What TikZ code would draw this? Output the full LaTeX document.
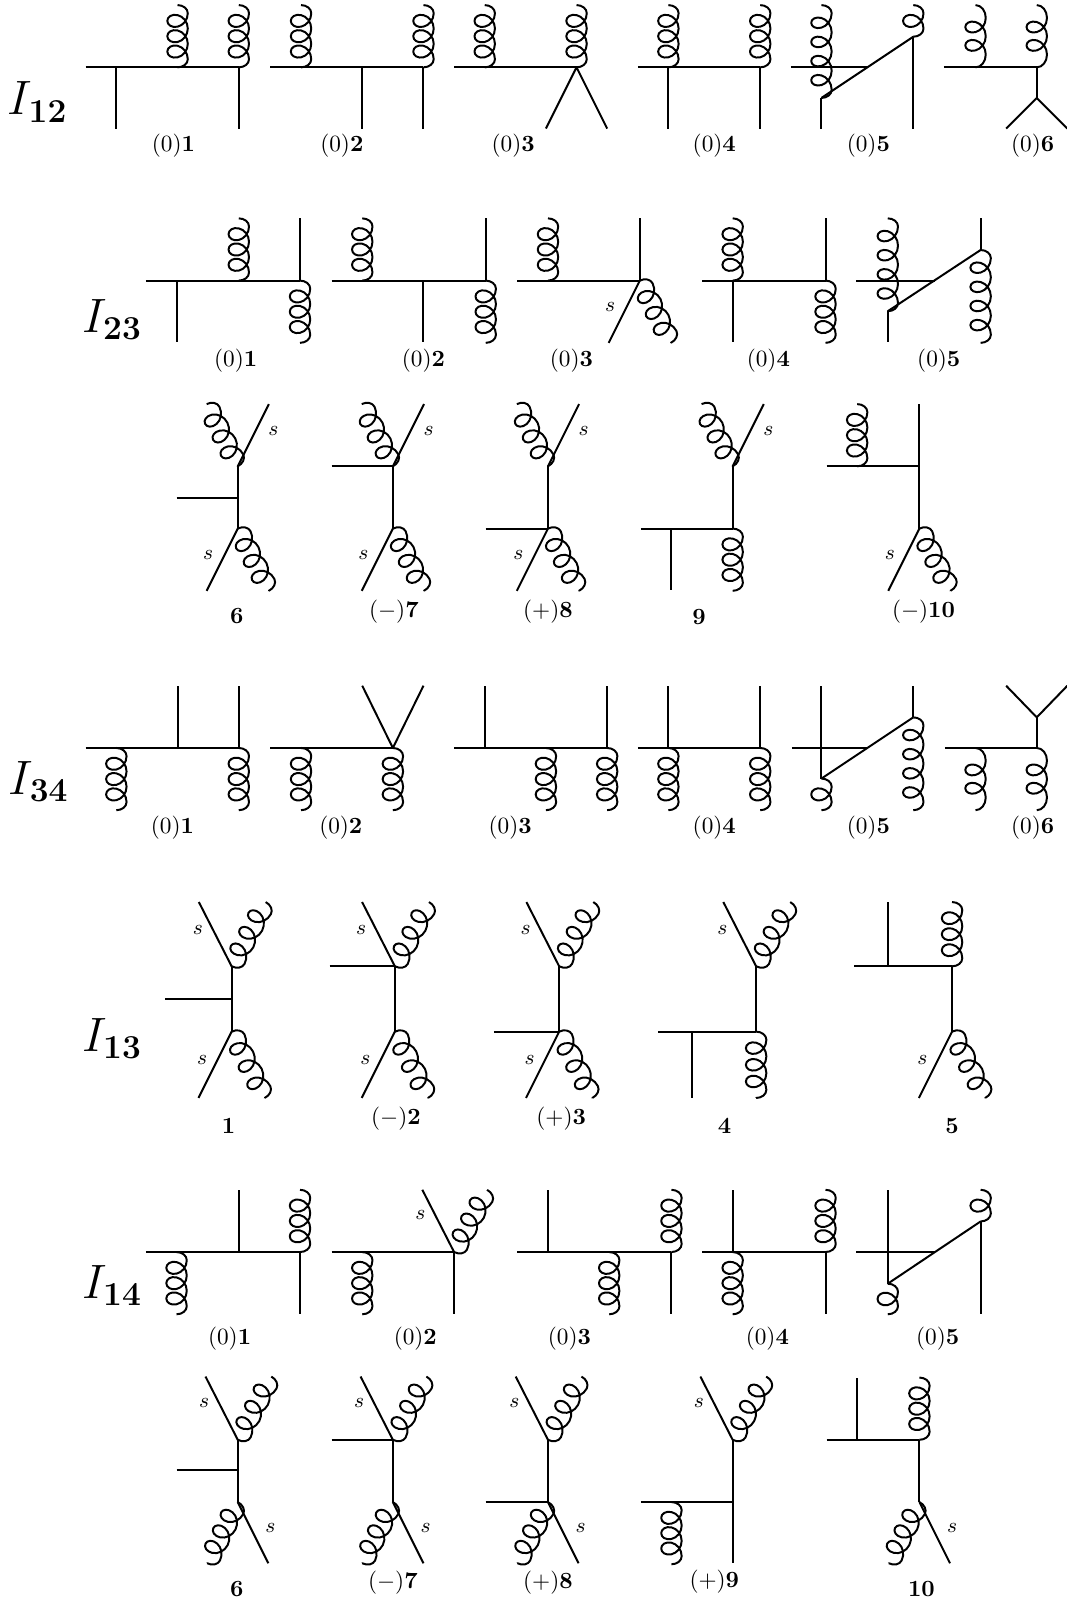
\documentclass[tikz,border=0pt]{standalone}
\usetikzlibrary{calc,decorations}
\def\gA{\pgfdecorationsegmentamplitude}
\def\gB{(.94*\pgfdecorationsegmentamplitude)}
\def\gL{\pgfdecorationsegmentlength}
\pgfdeclaredecoration{gcoil}{first}{
  \state{first}[width=+\gle,next state=loop]{
    \pgfpathcurveto{\pgfpoint{0pt}{.555*\gA}}{\pgfpoint{.445*\gle}{\gA}}{\pgfpoint{\gle}{\gA}}
  }
  \state{loop}[switch if less than=\gL/2+\gle to last,width=+\gL]{
    \pgfpathcurveto{\pgfpoint{.555*\gB+\gL/12}{\gA}}{\pgfpoint{\gB+\gL/6}{.555*\gA}}{\pgfpoint{\gB+\gL/4}{0pt}}
    \pgfpathcurveto{\pgfpoint{\gB+\gL/3}{-.555*\gA}}{\pgfpoint{.555*\gB+5*\gL/12}{-\gA}}{\pgfpoint{\gL/2}{-\gA}}
    \pgfpathcurveto{\pgfpoint{-.555*\gB+7*\gL/12}{-\gA}}{\pgfpoint{-\gB+2*\gL/3}{-.555*\gA}}{\pgfpoint{-\gB+3*\gL/4}{0pt}}
    \pgfpathcurveto{\pgfpoint{-\gB+5*\gL/6}{.555*\gA}}{\pgfpoint{-.555*\gB+11*\gL/12}{\gA}}{\pgfpoint{\gL}{\gA}}
  }
  \state{last}[next state=final]{
    \pgfpathcurveto{\pgfpoint{.555*\gle}{\gA}}{\pgfpoint{\gle}{.555*\gA}}{\pgfpoint{\gle}{0pt}}
  }
  \state{final}{\pgfpathlineto{\pgfpointdecoratedpathlast}}
}
\newcommand{\verts}[2]{\foreach \n/\x in {#1} \coordinate (\n) at (\x,#2);}
\newcommand{\gluon}[3]{\ifnum#3=2 \def\gle{5.5pt}\else \def\gle{3.5pt}\fi
  \draw let \p1=($(#2)-(#1)$), \n1={(veclen(\x1,\y1)-2*\gle)/#3} in decorate[decoration={gcoil,amplitude=4.4pt,segment length=\n1}] {(#1)--(#2)};}
\newcommand{\legup}[2][61]{\coordinate (#2e) at ($(#2)+(0,-#1)$); \draw (#2)--(#2e);}
\newcommand{\legdn}[2][60]{\coordinate (#2e) at ($(#2)+(0,#1)$); \draw (#2)--(#2e);}
\newcommand{\glup}[3][61]{\coordinate (#2g) at ($(#2)+(0,-#1)$); \gluon{#2g}{#2}{#3}}
\newcommand{\gldn}[3][61]{\coordinate (#2g) at ($(#2)+(0,#1)$); \gluon{#2}{#2g}{#3}}
% quark and gluon leaving one vertex
\newcommand{\topsg}[2][62]{\coordinate (#2e) at ($(#2)+(-.51*#1,-#1)$); \coordinate (#2g) at ($(#2)+(.53*#1,-#1)$);
  \draw (#2)--(#2e); \gluon{#2g}{#2}{3} \node (#2s) at ($(#2)+(-33,-36)$) {\small $s$};}
\newcommand{\topgs}[2][61]{\coordinate (#2e) at ($(#2)+(.5*#1,-#1)$); \coordinate (#2g) at ($(#2)+(-.5*#1,-#1)$);
  \draw (#2)--(#2e); \gluon{#2g}{#2}{3} \node (#2s) at ($(#2)+(35,-35)$) {\small $s$};}
\newcommand{\botsg}[2][61]{\coordinate (#2e) at ($(#2)+(-.5*#1,#1)$); \coordinate (#2g) at ($(#2)+(.5*#1,#1)$);
  \draw (#2)--(#2e); \gluon{#2}{#2g}{3} \node (#2s) at ($(#2)+(-29,.43*#1)$) {\small $s$};}
\newcommand{\botgs}[2][60]{\coordinate (#2e) at ($(#2)+(.5*#1,#1)$); \coordinate (#2g) at ($(#2)+(-.5*#1,#1)$);
  \draw (#2)--(#2e); \gluon{#2}{#2g}{3} \node (#2s) at ($(#2)+(32,25)$) {\small $s$};}
\begin{document}
\begin{tikzpicture}[x=.4386pt,y=-.4386pt,line width=.85pt,line join=round]
\useasboundingbox (0,0) rectangle (1045,1568);
% I12
\node (I12) at (37,100) {\huge $I_{\mathbf{12}}$};
\verts{a/84,b/114,c/174,d/234}{66} \draw (a)--(d); \legdn{b} \legdn{d} \glup{c}{3} \glup{d}{3}
\verts{a/265,b/295,c/355,d/415}{66} \draw (a)--(d); \glup{b}{3} \glup{d}{3} \legdn{c} \legdn{d}
\verts{a/445,b/475,c/565}{66} \draw (a)--(c); \glup{b}{3} \glup{c}{3}
\verts{e/535,f/595}{126} \draw (e)--(c)--(f);
\verts{a/625,b/655,c/745}{66} \draw (a)--(c); \glup{b}{3} \glup{c}{3} \legdn{b} \legdn{c}
\verts{a/775,f/850}{66} \verts{p/805}{96} \verts{q/895}{36} \draw (a)--(f); \draw (p)--(q);
\legdn[30]{p} \legdn[90]{q} \glup[91]{p}{4} \glup[31]{q}{1}
\verts{a/925,b/956,c/1016}{66} \draw (a)--(c); \glup{b}{2} \glup{c}{2} \legdn[30]{c}
\verts{e/986,f/1046}{126} \draw (e)--(ce)--(f);
\foreach \n/\x in {1/170,2/335,3/503,4/700,5/851,6/1012} \node (la\n) at (\x,143) {$(0)\mathbf{\n}$};
% I23
\node (I23) at (110,313) {\huge $I_{\mathbf{23}}$};
\verts{a/143,b/173,c/234,d/294}{275} \draw (a)--(d); \legdn{b} \legup{d} \glup{c}{3} \gldn{d}{3}
\verts{a/325,b/355,c/415,d/476}{275} \draw (a)--(d); \glup{b}{3} \legdn{c} \legup{d} \gldn{d}{3}
\verts{a/507,b/537,c/627}{275} \draw (a)--(c); \glup{b}{3} \legup{c} \botsg{c}
\verts{a/688,b/718,c/809}{275} \draw (a)--(c); \glup{b}{3} \legdn{b} \legup{c} \gldn{c}{3}
\verts{a/839,f/916}{275} \verts{p/870}{305} \verts{q/961}{245} \draw (a)--(f); \draw (p)--(q);
\legdn[30]{p} \legup[31]{q} \glup[91]{p}{4} \gldn[91]{q}{4}
\foreach \n/\x in {1/231,2/415,3/560,4/753,5/920} \node (lb\n) at (\x,353) {$(0)\mathbf{\n}$};
\verts{u/233}{457} \verts{w/233}{518} \verts{h/173,k/233}{488} \draw (u)--(w); \draw (h)--(k); \topgs{u} \botsg{w}
\node (lb6) at (232,604) {$\mathbf{6}$};
\verts{u/385}{457} \verts{w/385}{518} \verts{h/325}{457} \draw (u)--(w); \draw (h)--(u); \topgs{u} \botsg{w}
\node (lb7) at (386,599) {$(-)\mathbf{7}$};
\verts{u/537}{457} \verts{w/537}{518} \verts{h/476}{518} \draw (u)--(w); \draw (h)--(w); \topgs{u} \botsg{w}
\node (lb8) at (537,599) {$(+)\mathbf{8}$};
\verts{u/718}{457} \verts{w/718}{518} \verts{h/628,b/658}{518} \draw (u)--(w); \draw (h)--(w); \topgs{u} \legdn{b} \gldn{w}{3}
\node (lb9) at (685,605) {$\mathbf{9}$};
\verts{h/810,b/840,u/901}{457} \verts{w/901}{518} \draw (h)--(u)--(w); \legup{u} \glup{b}{3} \botsg{w}
\node (lb10) at (905,599) {$(-)\mathbf{10}$};
% I34
\node (I34) at (38,766) {\huge $I_{\mathbf{34}}$};
\verts{a/84,b/114,c/174,d/234}{733} \draw (a)--(d); \gldn{b}{3} \legup{c} \legup{d} \gldn{d}{3}
\verts{a/265,b/295,c/385}{733} \draw (a)--(c); \gldn{b}{3} \gldn{c}{3}
\verts{e/355,f/415}{672} \draw (e)--(c)--(f);
\verts{a/445,b/475,c/535,d/595}{733} \draw (a)--(d); \legup{b} \gldn{c}{3} \legup{d} \gldn{d}{3}
\verts{a/625,b/655,c/745}{733} \draw (a)--(c); \legup{b} \gldn{b}{3} \legup{c} \gldn{c}{3}
\verts{a/776,f/850}{733} \verts{p/805}{763} \verts{q/895}{703} \draw (a)--(f); \draw (p)--(q);
\legup[91]{p} \legup[31]{q} \gldn[31]{p}{1} \gldn[91]{q}{4}
\verts{a/926,b/956,c/1016}{733} \draw (a)--(c); \gldn{b}{2} \gldn{c}{2} \legup[30]{c}
\verts{e/986,f/1046}{672} \draw (e)--(ce)--(f);
\foreach \n/\x in {1/169,2/334,3/500,4/700,5/851,6/1012} \node (lc\n) at (\x,811) {$(0)\mathbf{\n}$};
% I13
\node (I13) at (110,1018) {\huge $I_{\mathbf{13}}$};
\verts{u/227}{947} \verts{w/227}{1011} \verts{h/162,k/227}{979} \draw (u)--(w); \draw (h)--(k); \topsg[63]{u} \botsg[65]{w}
\node (ld1) at (224,1103) {$\mathbf{1}$};
\verts{u/387}{947} \verts{w/387}{1011} \verts{h/323}{947} \draw (u)--(w); \draw (h)--(u); \topsg[63]{u} \botsg[65]{w}
\node (ld2) at (388,1096) {$(-)\mathbf{2}$};
\verts{u/548}{947} \verts{w/548}{1011} \verts{h/484}{1011} \draw (u)--(w); \draw (h)--(w); \topsg[63]{u} \botsg[65]{w}
\node (ld3) at (550,1096) {$(+)\mathbf{3}$};
\verts{u/741}{947} \verts{w/741}{1011} \verts{h/645,b/678}{1011} \draw (u)--(w); \draw (h)--(w); \topsg[63]{u} \legdn[65]{b} \gldn[65]{w}{3}
\node (ld4) at (710,1103) {$\mathbf{4}$};
\verts{h/837,b/870,u/933}{947} \verts{w/933}{1011} \draw (h)--(u)--(w); \legup[63]{b} \glup[63]{u}{3} \botsg[65]{w}
\node (ld5) at (933,1103) {$\mathbf{5}$};
% I14
\node (I14) at (110,1260) {\huge $I_{\mathbf{14}}$};
\verts{a/143,b/173,c/234,d/294}{1227} \draw (a)--(d); \gldn{b}{3} \legup{c} \glup{d}{3} \legdn[61]{d}
\verts{a/325,b/355,c/445}{1227} \draw (a)--(c); \gldn{b}{3} \topsg[61]{c} \legdn[61]{c}
\verts{a/507,b/537,c/597,d/658}{1227} \draw (a)--(d); \legup{b} \gldn{c}{3} \glup{d}{3} \legdn[61]{d}
\verts{a/688,b/718,c/809}{1227} \draw (a)--(c); \legup{b} \gldn{b}{3} \glup{c}{3} \legdn[61]{c}
\verts{a/839,f/916}{1227} \verts{p/870}{1258} \verts{q/961}{1197} \draw (a)--(f); \draw (p)--(q);
\legup[92]{p} \legdn[91]{q} \gldn[30]{p}{1} \glup[31]{q}{1}
\foreach \n/\x in {1/225,2/407,3/558,4/752,5/919} \node (le\n) at (\x,1312) {$(0)\mathbf{\n}$};
\verts{u/233}{1411} \verts{w/233}{1472} \verts{h/173,k/233}{1441} \draw (u)--(w); \draw (h)--(k); \topsg{u} \botgs{w}
\node (le6) at (232,1557) {$\mathbf{6}$};
\verts{u/385}{1411} \verts{w/385}{1472} \verts{h/325}{1411} \draw (u)--(w); \draw (h)--(u); \topsg{u} \botgs{w}
\node (le7) at (385,1551) {$(-)\mathbf{7}$};
\verts{u/537}{1411} \verts{w/537}{1472} \verts{h/476}{1472} \draw (u)--(w); \draw (h)--(w); \topsg{u} \botgs{w}
\node (le8) at (537,1551) {$(+)\mathbf{8}$};
\verts{u/718}{1411} \verts{w/718}{1472} \verts{h/628,b/658}{1472} \draw (u)--(w); \draw (h)--(w); \topsg{u} \gldn{b}{3} \legdn{w}
\node (le9) at (700,1550) {$(+)\mathbf{9}$};
\verts{h/810,b/840,u/901}{1411} \verts{w/901}{1472} \draw (h)--(u)--(w); \legup{b} \glup{u}{3} \botgs{w}
\node (le10) at (903,1557) {$\mathbf{10}$};
\end{tikzpicture}
\end{document}
